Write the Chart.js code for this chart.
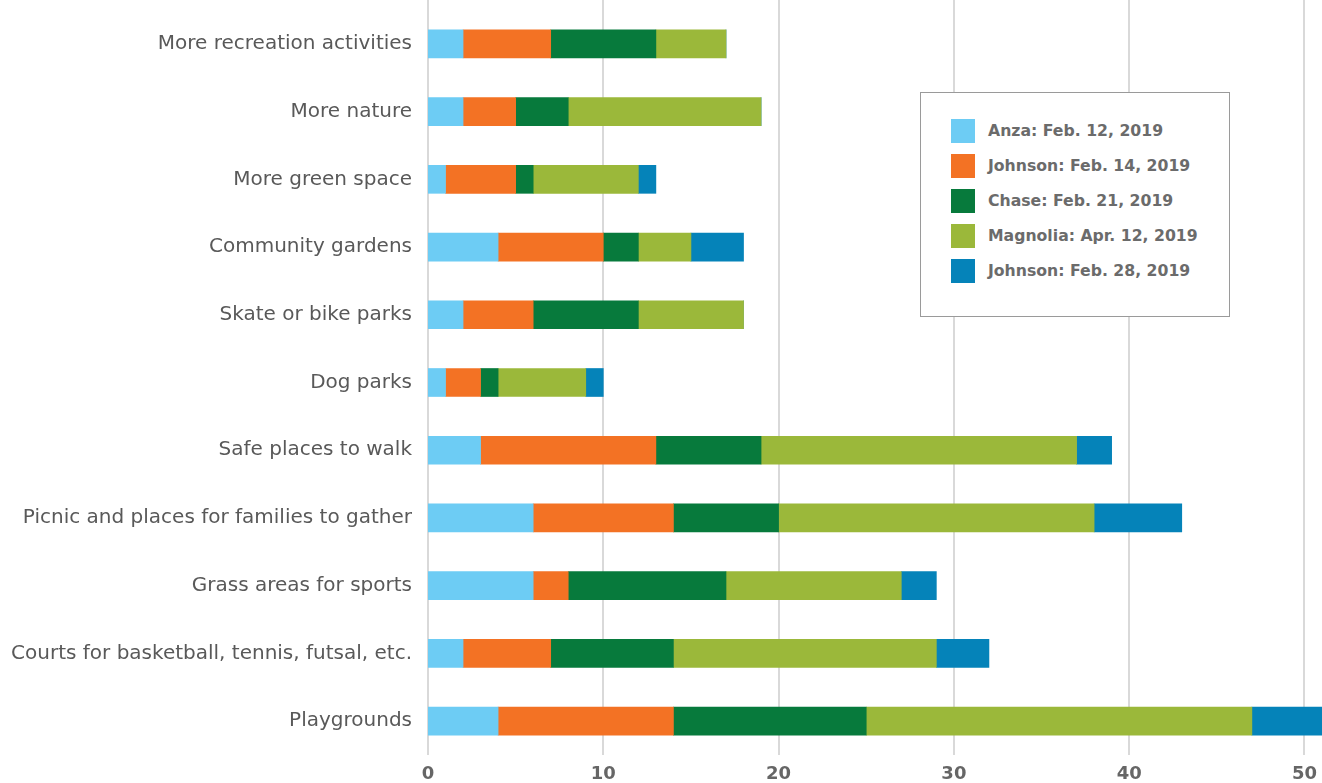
<!DOCTYPE html>
<html>
<head>
<meta charset="utf-8">
<script src="https://cdn.jsdelivr.net/npm/chart.js@4"></script>
<style>
  html, body { margin: 0; padding: 0; background: #fff; }
  #wrap { position: relative; width: 1322px; height: 783px; }
  #legend {
    position: absolute; left: 920px; top: 92px; width: 310px; height: 225px;
    border: 1px solid #9a9a9a; background: #fff; box-sizing: border-box;
    font-family: 'DejaVu Sans', sans-serif; font-weight: bold; font-size: 15.7px; color: #6b6b6b;
  }
  #legend .item { position: absolute; left: 30px; height: 24px; line-height: 24px; white-space: nowrap; }
  #legend .sw { display: inline-block; width: 24px; height: 24px; vertical-align: top; margin-right: 13px; }
</style>
</head>
<body>
<div id="wrap">
  <canvas id="surveyChart" width="1322" height="783"></canvas>
  <div id="legend"></div>
</div>
<script>
// Categories (top to bottom)
const categories = [
    'More recreation activities',
    'More nature',
    'More green space',
    'Community gardens',
    'Skate or bike parks',
    'Dog parks',
    'Safe places to walk',
    'Picnic and places for families to gather',
    'Grass areas for sports',
    'Courts for basketball, tennis, futsal, etc.',
    'Playgrounds'
];

// Series labels and values
const seriesNames = ['Anza: Feb. 12, 2019', 'Johnson: Feb. 14, 2019', 'Chase: Feb. 21, 2019', 'Magnolia: Apr. 12, 2019', 'Johnson: Feb. 28, 2019'];
const anza      = [2, 2, 1, 4, 2, 1, 3, 6, 6, 2, 4];
const johnson14 = [5, 3, 4, 6, 4, 2, 10, 8, 2, 5, 10];
const chase     = [6, 3, 1, 2, 6, 1, 6, 6, 9, 7, 11];
const magnolia  = [4, 11, 6, 3, 6, 5, 18, 18, 10, 15, 22];
const johnson28 = [0, 0, 1, 3, 0, 1, 2, 5, 2, 3, 4];
const seriesColors = ['#6DCCF4', '#F37224', '#077A3C', '#9BB83A', '#0583B9'];

// X axis ticks
const xTicks = [0, 10, 20, 30, 40, 50];

const seriesValues = [anza, johnson14, chase, magnolia, johnson28];

// vertical grid lines running to the top edge of the canvas
const fullGrid = {
    id: 'fullGrid',
    beforeDatasetsDraw(chart) {
        const c = chart.ctx, x = chart.scales.x, area = chart.chartArea;
        c.save();
        c.strokeStyle = '#d9d9d9';
        c.lineWidth = 2;
        xTicks.forEach(v => {
            const px = Math.round(x.getPixelForValue(v));
            c.beginPath();
            c.moveTo(px, 0);
            c.lineTo(px, area.bottom);
            c.stroke();
        });
        c.restore();
    }
};

const ctx = document.getElementById('surveyChart').getContext('2d');

const surveyChart = new Chart(ctx, {
    type: 'bar',
    data: {
        labels: categories,
        datasets: seriesValues.map((vals, i) => ({
            label: seriesNames[i],
            data: vals,
            backgroundColor: seriesColors[i],
            borderWidth: 0,
            barThickness: 28
        }))
    },
    plugins: [fullGrid],
    options: {
        indexAxis: 'y',
        responsive: false,
        animation: false,
        layout: { padding: { top: 10, right: 0, left: 0, bottom: 0 } },
        scales: {
            x: {
                stacked: true,
                min: 0,
                max: 51,
                afterBuildTicks: scale => {
                    scale.ticks = xTicks.map(v => ({ value: v }));
                },
                ticks: {
                    color: '#666',
                    padding: 1,
                    font: { family: "'DejaVu Sans', sans-serif", size: 18, weight: 'bold' }
                },
                grid: { display: false },
                border: { display: false },
                afterFit: scale => { scale.height = 28; }
            },
            y: {
                stacked: true,
                ticks: {
                    color: '#595959',
                    padding: 8,
                    font: { family: "'DejaVu Sans', sans-serif", size: 20, weight: 'normal' }
                },
                grid: { display: false },
                border: { display: false },
                afterFit: scale => {
                    scale.width = 428;
                    scale.paddingTop = 0;
                    scale.paddingBottom = 0;
                }
            }
        },
        plugins: {
            legend: { display: false },
            tooltip: { enabled: false }
        }
    }
});

// HTML legend box
const legendEl = document.getElementById('legend');
seriesNames.forEach((name, i) => {
    const item = document.createElement('div');
    item.className = 'item';
    item.style.top = (26 + i * 35) + 'px';
    item.innerHTML = '<span class="sw" style="background:' + seriesColors[i] + '"></span>' + name;
    legendEl.appendChild(item);
});
</script>
</body>
</html>
